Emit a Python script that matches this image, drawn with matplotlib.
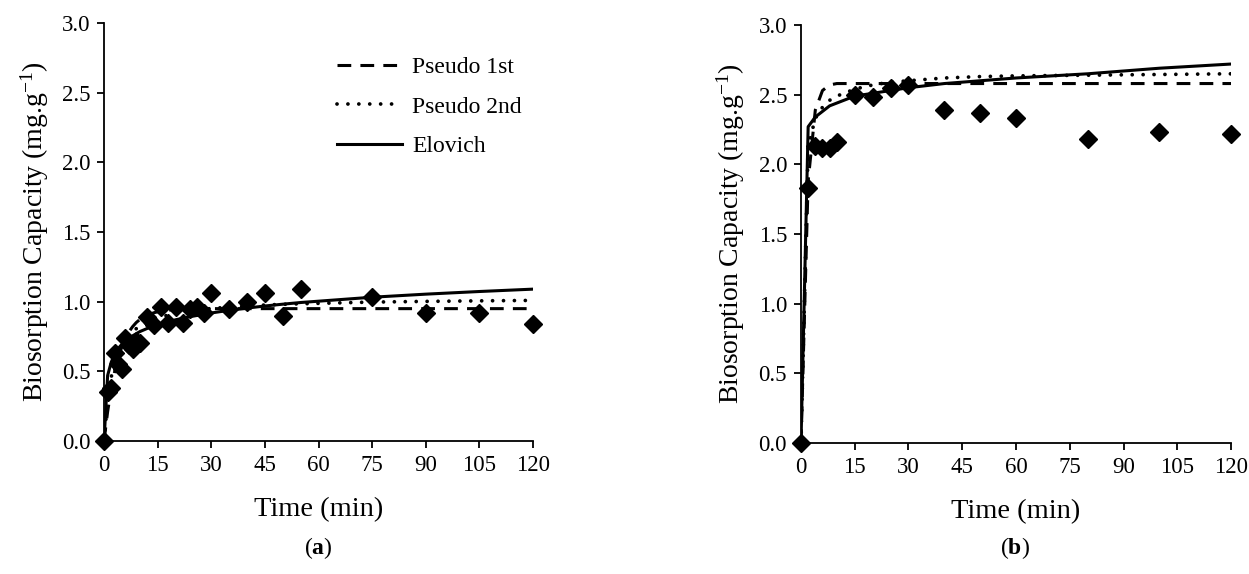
from matplotlib import pyplot as plt

# tiempos y capacidad de biosorcion medida, panel (a)
t_a = [0, 1, 2, 3, 4, 5, 6, 7, 8, 9, 10, 12, 14, 16, 18, 20, 22, 24, 26, 28, 30,
       35, 40, 45, 50, 55, 75, 90, 105, 120]
q_a = [0, 0.35, 0.38, 0.63, 0.55, 0.52, 0.74, 0.69, 0.66, 0.72, 0.70, 0.89, 0.83,
       0.96, 0.85, 0.96, 0.85, 0.95, 0.96, 0.92, 1.06, 0.95, 1.00, 1.06, 0.90,
       1.09, 1.03, 0.92, 0.92, 0.84]

# modelos cineticos evaluados en los mismos tiempos, panel (a)
pseudo1_a = [0, 0.210, 0.374, 0.502, 0.601, 0.678, 0.738, 0.785, 0.821, 0.850,
             0.872, 0.903, 0.921, 0.933, 0.939, 0.944, 0.946, 0.948, 0.949, 0.949,
             0.950, 0.950, 0.950, 0.950, 0.950, 0.950, 0.950, 0.950, 0.950, 0.950]
pseudo2_a = [0, 0.294, 0.458, 0.562, 0.634, 0.687, 0.727, 0.759, 0.785, 0.806,
             0.824, 0.852, 0.874, 0.891, 0.904, 0.916, 0.925, 0.933, 0.940, 0.946,
             0.951, 0.961, 0.969, 0.976, 0.981, 0.985, 0.997, 1.002, 1.006, 1.009]
elovich_a = [0, 0.470, 0.565, 0.625, 0.665, 0.695, 0.718, 0.738, 0.755, 0.770,
             0.785, 0.807, 0.826, 0.842, 0.857, 0.870, 0.881, 0.892, 0.901, 0.910,
             0.919, 0.938, 0.954, 0.969, 0.982, 0.994, 1.032, 1.054, 1.073, 1.090]

# panel (b)
t_b = [0, 2, 4, 6, 8, 10, 15, 20, 25, 30, 40, 50, 60, 80, 100, 120]
q_b = [0, 1.83, 2.13, 2.12, 2.12, 2.16, 2.50, 2.48, 2.55, 2.57, 2.39, 2.37, 2.33,
       2.18, 2.23, 2.22]
pseudo1_b = [0, 1.88, 2.39, 2.53, 2.57, 2.58, 2.58, 2.58, 2.58, 2.58, 2.58, 2.58,
             2.58, 2.58, 2.58, 2.58]
pseudo2_b = [0, 2.13, 2.33, 2.41, 2.46, 2.49, 2.54, 2.57, 2.59, 2.60, 2.62, 2.63,
             2.635, 2.64, 2.645, 2.65]
elovich_b = [0, 2.27, 2.34, 2.38, 2.42, 2.44, 2.49, 2.51, 2.53, 2.55, 2.58, 2.60,
             2.62, 2.65, 2.69, 2.72]

xticks = [0, 15, 30, 45, 60, 75, 90, 105, 120]
yticks = [0.0, 0.5, 1.0, 1.5, 2.0, 2.5, 3.0]

plt.rcParams['font.family'] = ['Liberation Serif', 'DejaVu Serif']
plt.rcParams['mathtext.fontset'] = 'custom'
plt.rcParams['mathtext.rm'] = 'Liberation Serif'
plt.rcParams['mathtext.it'] = 'Liberation Serif:italic'
plt.rcParams['mathtext.bf'] = 'Liberation Serif:bold'

fig = plt.figure(figsize=(12.49, 5.74), dpi=100)
ax_a = fig.add_axes([0.0833, 0.2317, 0.3435, 0.7282])
ax_b = fig.add_axes([0.6413, 0.2282, 0.3443, 0.7282])

lw = 2.2
paneles = [(ax_a, t_a, q_a, pseudo1_a, pseudo2_a, elovich_a, 'a', 0.255),
           (ax_b, t_b, q_b, pseudo1_b, pseudo2_b, elovich_b, 'b', 0.813)]

for ax, t, q, p1, p2, el, letra, xl in paneles:
    ax.plot(t, p1, color='black', lw=lw, linestyle=(0, (4.5, 3)),
            dash_capstyle='butt', label='Pseudo 1st')
    ax.plot(t, p2, color='black', lw=2.7, linestyle=(0, (0.01, 2.9)),
            dash_capstyle='round', label='Pseudo 2nd')
    ax.plot(t, el, color='black', lw=lw, label='Elovich')
    ax.plot(t, q, linestyle='none', marker='D', markersize=9.5, color='black',
            clip_on=False, zorder=5)

    ax.set_xlim(0, 120)
    ax.set_ylim(0, 3.0)
    ax.set_xticks(xticks)
    ax.set_yticks(yticks)
    ax.set_yticklabels([f'{v:.1f}' for v in yticks])
    for lado in ['top', 'right']:
        ax.spines[lado].set_visible(False)
    for lado in ['left', 'bottom']:
        ax.spines[lado].set_linewidth(1.3)
    ax.tick_params(direction='out', length=5, width=1.3, labelsize=16.5, pad=5)
    ax.set_xlabel('Time (min)', fontsize=20.5, labelpad=15)
    ax.set_ylabel('Biosorption Capacity (mg.g$^{-1}$)', fontsize=20, labelpad=8)

    fig.text(xl, 0.045, f'($\\mathbf{{{letra}}}$)', fontsize=17, ha='center',
             va='center')

ax_a.legend(loc='upper left', bbox_to_anchor=(325 / 1249, 1 - 45 / 574),
            bbox_transform=fig.transFigure, frameon=False, fontsize=17,
            handlelength=2.75, handletextpad=0.45, labelspacing=0.75, borderpad=0)

plt.savefig('out.png', dpi=100)
